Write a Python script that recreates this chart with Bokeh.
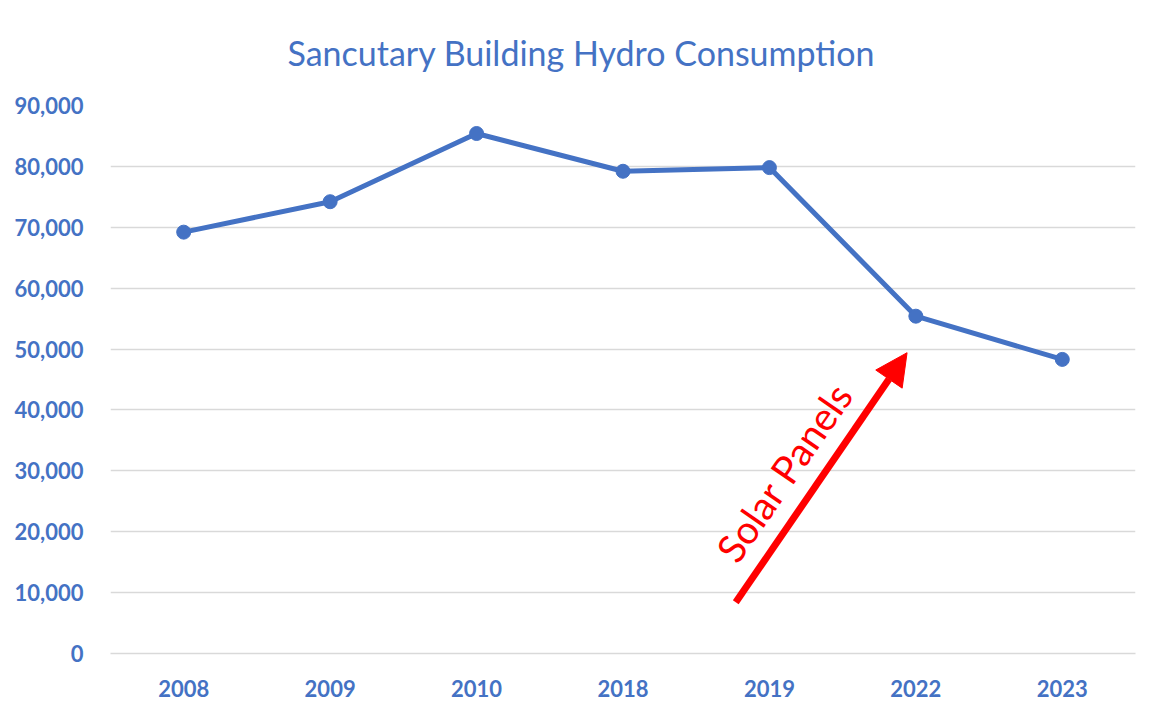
from bokeh.plotting import figure
from bokeh.models import NumeralTickFormatter, Arrow, NormalHead, FixedTicker
from bokeh.core.properties import value
from bokeh.embed import file_html
from bokeh.resources import INLINE

years = ["2008", "2009", "2010", "2018", "2019", "2022", "2023"]
consumption = [69200, 74200, 85400, 79200, 79800, 55400, 48300]
y_ticks = [0, 10000, 20000, 30000, 40000, 50000, 60000, 70000, 80000, 90000]

title_text = "Sancutary Building Hydro Consumption"
note_text = "Solar Panels"
arrow_start = (4.27, 8400)
arrow_end = (5.44, 49400)
note_pos = (4.6, 29800)

BLUE = "#4472C4"
GRID = "#D9D9D9"
FONT = "Lato"

p = figure(x_range=years, y_range=(0, 90000), width=1153, height=703,
           frame_width=1025, frame_height=548,
           min_border_left=110, min_border_right=18, min_border_top=105, min_border_bottom=50,
           output_backend="svg", toolbar_location=None, title=title_text)

p.title.align = "left"
p.title.offset = 177
p.title.text_font = FONT
p.title.text_font_size = "34px"
p.title.text_font_style = "normal"
p.title.text_color = BLUE
p.title.vertical_align = "top"
p.title.standoff = 62

p.outline_line_color = None
p.xgrid.grid_line_color = None
p.ygrid.grid_line_color = GRID
p.ygrid.grid_line_width = 1.5

p.yaxis.ticker = FixedTicker(ticks=y_ticks)
p.yaxis.formatter = NumeralTickFormatter(format="0,0")
p.yaxis.axis_line_color = None
p.yaxis.major_tick_line_color = None
p.yaxis.minor_tick_line_color = None
p.yaxis.major_label_standoff = 21

p.xaxis.axis_line_color = GRID
p.xaxis.axis_line_width = 1.5
p.xaxis.major_tick_line_color = None
p.xaxis.minor_tick_line_color = None
p.xaxis.major_label_standoff = 20

for ax in (p.xaxis[0], p.yaxis[0]):
    ax.major_label_text_font = FONT
    ax.major_label_text_font_style = "bold"
    ax.major_label_text_font_size = "22px"
    ax.major_label_text_color = BLUE

p.line(years, consumption, line_color=BLUE, line_width=5)
p.scatter(years, consumption, size=14, fill_color=BLUE, line_color=BLUE)

p.add_layout(Arrow(end=NormalHead(size=32, fill_color="red", line_color="red"),
                   x_start=arrow_start[0], y_start=arrow_start[1],
                   x_end=arrow_end[0], y_end=arrow_end[1],
                   line_color="red", line_width=7))

p.text(x=[note_pos[0]], y=[note_pos[1]], text=[note_text], angle=55.4, angle_units="deg",
       text_font=value(FONT), text_font_size="39px", text_color="red",
       text_align="center", text_baseline="middle")

open("out.html", "w").write(file_html(p, INLINE))
